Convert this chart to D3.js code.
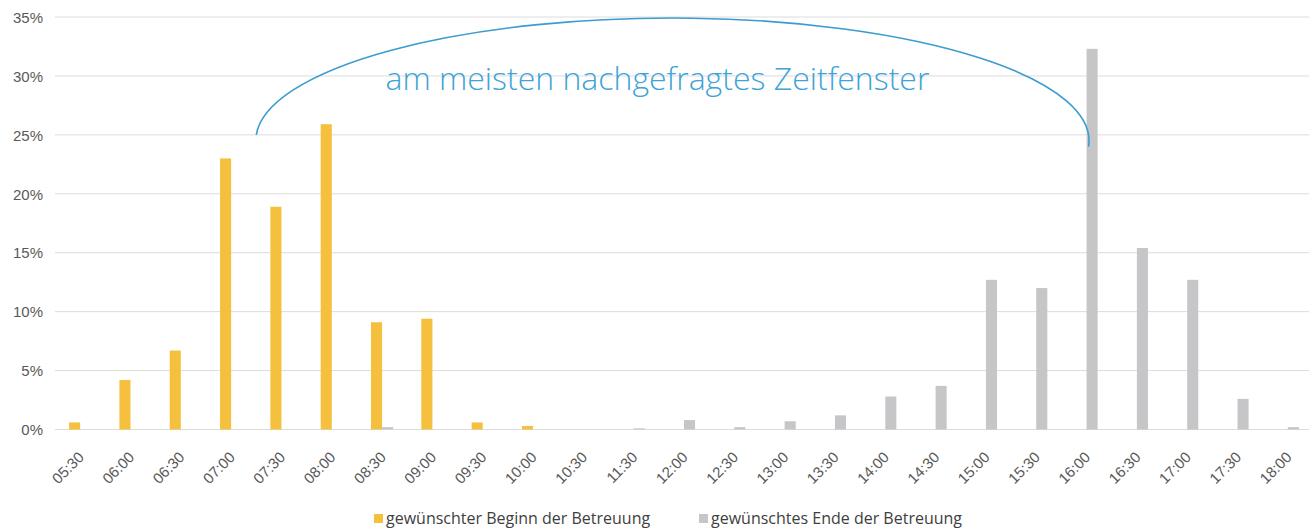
<!DOCTYPE html>
<html>
<head>
<meta charset="utf-8">
<script src="https://cdn.jsdelivr.net/npm/d3@7"></script>
<style>
  body { margin: 0; background: #fff; }
  svg { font-family: "Open Sans", sans-serif; }
  .grid line { stroke: #dcdcdc; stroke-width: 1; }
  .tick text { fill: #595959; }
</style>
</head>
<body>
<svg width="1316" height="532"></svg>
<script>
const categories = ["05:30", "06:00", "06:30", "07:00", "07:30", "08:00", "08:30", "09:00", "09:30", "10:00",
  "10:30", "11:30", "12:00", "12:30", "13:00", "13:30", "14:00", "14:30", "15:00", "15:30",
  "16:00", "16:30", "17:00", "17:30", "18:00"];

// gewünschter Beginn (%)
const beginn = [0.6, 4.2, 6.7, 23.0, 18.9, 25.9, 9.1, 9.4, 0.6, 0.3,
  0, 0, 0, 0, 0, 0, 0, 0, 0, 0,
  0, 0, 0, 0, 0];

// gewünschtes Ende (%)
const ende = [0, 0, 0, 0, 0, 0, 0.2, 0, 0, 0,
  0, 0.1, 0.8, 0.2, 0.7, 1.2, 2.8, 3.7, 12.7, 12.0,
  32.3, 15.4, 12.7, 2.6, 0.2];

const series = ["gewünschter Beginn der Betreuung", "gewünschtes Ende der Betreuung"];
const yTicks = [0, 5, 10, 15, 20, 25, 30, 35];
const annotation = "am meisten nachgefragtes Zeitfenster";

const colors = ["#f4c03e", "#c6c6c8"];

const svg = d3.select("svg");
const plotLeft = 55, plotRight = 1313, plotTop = 17, plotBottom = 429.5;

const x0 = d3.scaleBand()
  .domain(categories)
  .range([plotLeft, plotRight])
  .paddingInner(0.56)
  .paddingOuter(0.28);

const x1 = d3.scaleBand()
  .domain([0, 1])
  .range([0, x0.bandwidth()]);

const y = d3.scaleLinear()
  .domain([0, 35])
  .range([plotBottom, plotTop]);

// gridlines
svg.append("g")
  .attr("class", "grid")
  .selectAll("line")
  .data(yTicks)
  .enter().append("line")
  .attr("x1", plotLeft)
  .attr("x2", plotRight - 4)
  .attr("y1", d => y(d))
  .attr("y2", d => y(d));

// y axis labels
const yAxis = svg.append("g")
  .attr("transform", "translate(" + (plotLeft - 12) + ",0)")
  .call(d3.axisLeft(y).tickValues(yTicks).tickSize(0).tickFormat(d => d + "%"));
yAxis.select(".domain").remove();
yAxis.selectAll("text")
  .attr("x", 0)
  .attr("dy", "0.35em")
  .style("font-size", "15px");

// x axis labels
const xAxis = svg.append("g")
  .attr("transform", "translate(0," + plotBottom + ")")
  .call(d3.axisBottom(x0).tickSize(0));
xAxis.select(".domain").remove();
xAxis.selectAll("text")
  .style("font-size", "15px")
  .attr("text-anchor", "end")
  .attr("dy", "0.35em")
  .attr("y", 0)
  .attr("transform", "translate(1,25) rotate(-45)");

// bars
const rows = categories.map((c, i) => ({ cat: c, values: [beginn[i], ende[i]] }));

const groups = svg.append("g")
  .selectAll("g")
  .data(rows)
  .enter().append("g")
  .attr("transform", d => "translate(" + x0(d.cat) + ",0)");

groups.selectAll("rect")
  .data(d => d.values.map((v, k) => ({ k: k, v: v })))
  .enter().append("rect")
  .filter(d => d.v > 0)
  .attr("x", d => x1(d.k))
  .attr("width", x1.bandwidth())
  .attr("y", d => y(d.v))
  .attr("height", d => plotBottom - y(d.v))
  .attr("fill", d => colors[d.k]);

// annotation arc between 07:00/07:30 and 16:00
const ax1 = (x0("07:00") + x0("07:30") + x0.bandwidth()) / 2;
const ay1 = y(25);
const ax2 = x0("16:00") + x1(1) + 2;
const ay2 = y(24);
const rx = (ax2 - ax1) / 2;
const ry = ay1 - y(35.4);

svg.append("path")
  .attr("d", "M" + ax1 + "," + ay1 + " A" + rx + "," + ry + " 0 0,1 " + ax2 + "," + ay2)
  .attr("fill", "none")
  .attr("stroke", "#3a9ccf")
  .attr("stroke-width", 1.6);

svg.append("text")
  .attr("x", (ax1 + ax2) / 2 - 15)
  .attr("y", y(28.8))
  .attr("text-anchor", "middle")
  .attr("fill", "#3ea3d6")
  .style("font-size", "32px")
  .style("font-weight", 300)
  .text(annotation);

// legend
const legend = svg.append("g")
  .attr("transform", "translate(374,524)");

const legendX = [0, 325];
legend.selectAll("rect")
  .data(series)
  .enter().append("rect")
  .attr("x", (d, i) => legendX[i])
  .attr("y", -10)
  .attr("width", 9)
  .attr("height", 9)
  .attr("fill", (d, i) => colors[i]);

legend.selectAll("text")
  .data(series)
  .enter().append("text")
  .attr("x", (d, i) => legendX[i] + 12)
  .attr("y", 0)
  .attr("fill", "#404040")
  .style("font-size", "16px")
  .text(d => d);
</script>
</body>
</html>
